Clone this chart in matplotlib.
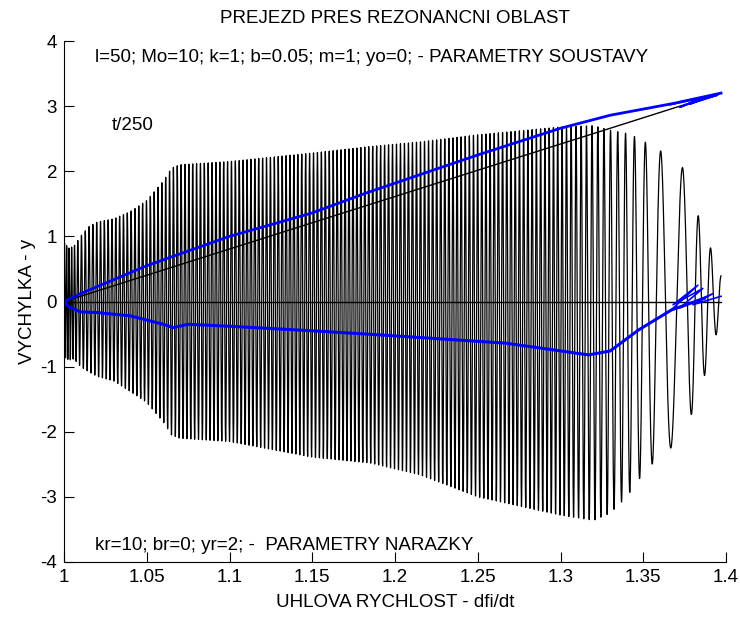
import numpy as np
import matplotlib
matplotlib.use("Agg")
import matplotlib.pyplot as plt

plt.rcParams['font.family'] = ['Liberation Sans', 'DejaVu Sans']
plt.rcParams['axes.unicode_minus'] = False

# ---- data ----
# envelope of the black oscillating response y(omega)
env_x = [1.000, 1.003, 1.006, 1.010, 1.015, 1.020, 1.030, 1.040, 1.050, 1.060, 1.065,
         1.070, 1.100, 1.150, 1.185, 1.215, 1.250, 1.300, 1.320, 1.330, 1.340,
         1.347, 1.357, 1.365, 1.374, 1.382, 1.393, 1.397]
env_upper = [0.90, 0.82, 0.85, 1.00, 1.15, 1.22, 1.27, 1.38, 1.55, 1.85, 2.05,
             2.10, 2.15, 2.28, 2.38, 2.45, 2.56, 2.68, 2.70, 2.63, 2.58,
             2.51, 2.36, 2.25, 2.05, 1.40, 0.67, 0.40]
env_lower = [-0.85, -0.90, -0.88, -1.00, -1.08, -1.15, -1.22, -1.38, -1.55, -1.85, -2.05,
             -2.10, -2.15, -2.39, -2.48, -2.66, -3.00, -3.28, -3.36, -3.25, -3.00,
             -2.74, -2.45, -2.33, -1.90, -1.64, -0.55, -0.40]
# apparent length of one oscillation cycle (in omega units) along the axis
cyc_x = [1.000, 1.006, 1.010, 1.200, 1.300, 1.325, 1.340, 1.350, 1.360, 1.370, 1.380, 1.397]
cyc_len = [0.0012, 0.0018, 0.0023, 0.0024, 0.0026, 0.0037, 0.0050, 0.0070, 0.0110, 0.0150, 0.0085, 0.0060]

# blue curves
blue_up_x = [1.000, 1.010, 1.050, 1.100, 1.150, 1.183, 1.250, 1.300, 1.330, 1.368, 1.397]
blue_up_y = [0.00, 0.12, 0.55, 1.00, 1.36, 1.67, 2.25, 2.66, 2.86, 3.04, 3.20]
blue_up_scr_x = [1.366, 1.384, 1.372, 1.390, 1.378, 1.395, 1.385, 1.397]
blue_up_scr_y = [3.02, 3.12, 2.98, 3.15, 3.03, 3.17, 3.10, 3.20]
blue_lo_x = [1.000, 1.003, 1.010, 1.020, 1.040, 1.060, 1.066, 1.075, 1.100, 1.150,
             1.183, 1.267, 1.317, 1.330, 1.347, 1.367, 1.387]
blue_lo_y = [0.00, -0.08, -0.16, -0.17, -0.22, -0.35, -0.40, -0.35, -0.38, -0.45,
             -0.50, -0.64, -0.82, -0.76, -0.44, -0.13, 0.05]
blue_lo_scr_x = [1.366, 1.383, 1.368, 1.386, 1.372, 1.392, 1.380, 1.397]
blue_lo_scr_y = [-0.15, 0.25, -0.05, 0.20, -0.10, 0.12, -0.05, 0.08]

# straight black line and zero line
line_x = [1.000, 1.397]
line_y = [0.00, 3.20]
zero_x = [1.000, 1.397]
zero_y = [0.0, 0.0]

x_ticks = [1, 1.05, 1.1, 1.15, 1.2, 1.25, 1.3, 1.35, 1.4]
x_ticklabels = ['1', '1.05', '1.1', '1.15', '1.2', '1.25', '1.3', '1.35', '1.4']
y_ticks = [-4, -3, -2, -1, 0, 1, 2, 3, 4]

# ---- build the oscillation from the envelope ----
xf = np.linspace(env_x[0], env_x[-1], 60000)
up = np.interp(xf, env_x, env_upper)
lo = np.interp(xf, env_x, env_lower)
cl = np.interp(xf, cyc_x, cyc_len)
phase = np.concatenate([[0], np.cumsum(np.diff(xf) / cl[1:])])
yf = (up + lo) / 2 + (up - lo) / 2 * np.sin(2 * np.pi * phase)

fs = 13.5
fig = plt.figure(figsize=(7.4, 6.18), dpi=100)
ax = fig.add_axes([64 / 740, 1 - 562 / 618, 662 / 740, 521 / 618])

ax.plot(xf, yf, color='black', lw=0.9)
ax.plot(zero_x, zero_y, color='black', lw=1.0)
ax.plot(line_x, line_y, color='black', lw=1.0)
ax.plot(blue_up_x, blue_up_y, color='#0000ff', lw=2.0)
ax.plot(blue_up_scr_x, blue_up_scr_y, color='#0000ff', lw=1.2)
ax.plot(blue_lo_x, blue_lo_y, color='#0000ff', lw=2.2)
ax.plot(blue_lo_scr_x, blue_lo_scr_y, color='#0000ff', lw=1.2)

ax.set_xlim(1, 1.4)
ax.set_ylim(-4, 4)
ax.set_xticks(x_ticks)
ax.set_xticklabels(x_ticklabels)
ax.set_yticks(y_ticks)
ax.spines['top'].set_visible(False)
ax.spines['right'].set_visible(False)
ax.tick_params(direction='in', length=7, labelsize=fs, pad=5)

ax.set_title('PREJEZD PRES REZONANCNI OBLAST', fontsize=fs, pad=13)
ax.set_xlabel('UHLOVA RYCHLOST - dfi/dt', fontsize=fs, labelpad=6)
ax.set_ylabel('VYCHYLKA - y', fontsize=fs, labelpad=3)

ax.text(1.019, 3.75, 'l=50; Mo=10; k=1; b=0.05; m=1; yo=0; - PARAMETRY SOUSTAVY',
        fontsize=fs, va='center', ha='left')
ax.text(1.029, 2.71, 't/250', fontsize=fs, va='center', ha='left')
ax.text(1.019, -3.74, 'kr=10; br=0; yr=2; -  PARAMETRY NARAZKY',
        fontsize=fs, va='center', ha='left')

fig.savefig('out.png', dpi=100)
